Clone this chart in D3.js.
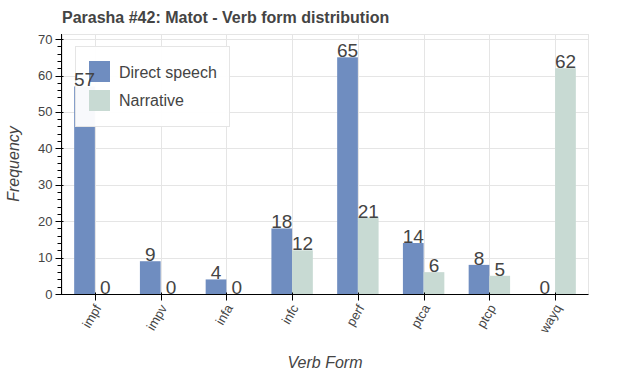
<!DOCTYPE html>
<html>
<head>
<meta charset="utf-8">
<script src="https://d3js.org/d3.v7.min.js"></script>
<style>
    body { margin: 0; background: #fff; }
    svg { font-family: "Liberation Sans", Arial, Helvetica, sans-serif; }
    .grid line { stroke: #e5e5e5; stroke-width: 1; }
    .tick-label { fill: #444; font-size: 13px; }
    .value-label { fill: #444; font-size: 19px; }
</style>
</head>
<body>
<svg id="chart" width="625" height="375"></svg>
<script>
// verb forms (x categories)
var forms = ['impf', 'impv', 'infa', 'infc', 'perf', 'ptca', 'ptcp', 'wayq'];

// counts per verb form
var directSpeech = [57, 9, 4, 18, 65, 14, 8, 0];
var narrative = [0, 0, 0, 12, 21, 6, 5, 62];

var seriesNames = ['Direct speech', 'Narrative'];
var yTicks = [0, 10, 20, 30, 40, 50, 60, 70];

/** Class implementing the grouped bar chart. */
class BarChart {
    /**
     * Creates the chart with its scales
     */
    constructor() {
        this.left = 62;
        this.right = 588;
        this.top = 34;
        this.bottom = 294;
        this.colors = ['#6f8dc0', '#c8dad3'];

        this.x = d3.scaleBand().domain(forms).range([this.left, this.right]);
        this.y = d3.scaleLinear().domain([0, 71.4]).range([this.bottom, this.top]);
    }

    /**
     * Draws gridlines, bars, legend, axes and labels
     */
    draw() {
        var svg = d3.select('#chart');
        var x = this.x, y = this.y;
        var self = this;
        var bw = x.bandwidth() * 0.315;
        var cx = function (d) { return x(d) + x.bandwidth() / 2; };

        // gridlines
        var grid = svg.append('g').attr('class', 'grid');
        grid.selectAll('.gy')
            .data(yTicks)
            .enter()
            .append('line')
            .attr('x1', this.left).attr('x2', this.right)
            .attr('y1', function (d) { return Math.round(y(d)) + 0.5; })
            .attr('y2', function (d) { return Math.round(y(d)) + 0.5; });
        grid.selectAll('.gx')
            .data(forms)
            .enter()
            .append('line')
            .attr('x1', function (d) { return Math.round(cx(d)) + 0.5; })
            .attr('x2', function (d) { return Math.round(cx(d)) + 0.5; })
            .attr('y1', this.top).attr('y2', this.bottom);

        // plot outline
        svg.append('rect')
            .attr('x', this.left + 0.5).attr('y', this.top + 0.5)
            .attr('width', this.right - this.left).attr('height', this.bottom - this.top)
            .attr('fill', 'none').attr('stroke', '#e5e5e5');

        // bars, one group per series
        var series = [directSpeech, narrative];
        series.forEach(function (vals, s) {
            svg.append('g').selectAll('rect')
                .data(vals)
                .enter()
                .append('rect')
                .attr('x', function (d, i) { return cx(forms[i]) + (s === 0 ? -bw : 0); })
                .attr('y', function (d) { return y(d); })
                .attr('width', bw)
                .attr('height', function (d) { return y(0) - y(d); })
                .attr('fill', self.colors[s]);
        });

        // legend
        var legend = svg.append('g');
        legend.append('rect')
            .attr('x', 75.5).attr('y', 46.5)
            .attr('width', 154).attr('height', 80)
            .attr('fill', '#fff').attr('fill-opacity', 0.95)
            .attr('stroke', '#e5e5e5');
        seriesNames.forEach(function (name, s) {
            legend.append('rect')
                .attr('x', 89).attr('y', 61 + s * 29)
                .attr('width', 21).attr('height', 21)
                .attr('fill', self.colors[s]);
            legend.append('text')
                .attr('x', 119).attr('y', 77.5 + s * 28.5)
                .attr('fill', '#444').attr('font-size', '16px')
                .text(name);
        });

        // value labels sit on top of everything
        series.forEach(function (vals, s) {
            svg.append('g').selectAll('text')
                .data(vals)
                .enter()
                .append('text')
                .attr('class', 'value-label')
                .attr('text-anchor', 'middle')
                .attr('x', function (d, i) { return cx(forms[i]) + (s === 0 ? -bw / 2 : bw / 2); })
                .attr('y', function (d) { return y(d); })
                .text(function (d) { return d; });
        });

        // y axis
        var yAxis = svg.append('g').attr('transform', 'translate(' + (this.left - 0.5) + ',0)');
        yAxis.append('line')
            .attr('y1', this.top).attr('y2', this.bottom + 0.5)
            .attr('stroke', '#000');
        var minor = d3.range(0, 71, 2).filter(function (d) { return d % 10 !== 0; });
        yAxis.selectAll('.minor')
            .data(minor)
            .enter()
            .append('line')
            .attr('x1', -4).attr('x2', 0)
            .attr('y1', function (d) { return Math.round(y(d)) + 0.5; })
            .attr('y2', function (d) { return Math.round(y(d)) + 0.5; })
            .attr('stroke', '#000');
        yAxis.selectAll('.major')
            .data(yTicks)
            .enter()
            .append('line')
            .attr('x1', -6).attr('x2', 2)
            .attr('y1', function (d) { return Math.round(y(d)) + 0.5; })
            .attr('y2', function (d) { return Math.round(y(d)) + 0.5; })
            .attr('stroke', '#000');
        yAxis.selectAll('.tick-label')
            .data(yTicks)
            .enter()
            .append('text')
            .attr('class', 'tick-label')
            .attr('text-anchor', 'end')
            .attr('x', -9)
            .attr('y', function (d) { return y(d); })
            .attr('dy', '0.35em')
            .text(function (d) { return d; });

        // x axis
        var xAxis = svg.append('g').attr('transform', 'translate(0,' + (this.bottom + 0.5) + ')');
        xAxis.append('line')
            .attr('x1', this.left - 1).attr('x2', this.right + 0.5)
            .attr('stroke', '#000');
        xAxis.selectAll('.major')
            .data(forms)
            .enter()
            .append('line')
            .attr('x1', function (d) { return Math.round(cx(d)) + 0.5; })
            .attr('x2', function (d) { return Math.round(cx(d)) + 0.5; })
            .attr('y1', -2).attr('y2', 6)
            .attr('stroke', '#000');
        xAxis.selectAll('.tick-label')
            .data(forms)
            .enter()
            .append('text')
            .attr('class', 'tick-label')
            .attr('text-anchor', 'end')
            .attr('transform', function (d) {
                return 'translate(' + (cx(d) + 3) + ',11) rotate(-60)';
            })
            .attr('dy', '0.35em')
            .text(function (d) { return d; });

        // axis titles
        svg.append('text')
            .attr('x', (this.left + this.right) / 2).attr('y', 368)
            .attr('text-anchor', 'middle')
            .attr('font-style', 'italic').attr('font-size', '16px').attr('fill', '#444')
            .text('Verb Form');
        svg.append('text')
            .attr('transform', 'translate(19,' + (this.top + this.bottom) / 2 + ') rotate(-90)')
            .attr('text-anchor', 'middle')
            .attr('font-style', 'italic').attr('font-size', '16px').attr('fill', '#444')
            .text('Frequency');

        // title
        svg.append('text')
            .attr('x', 62).attr('y', 23)
            .attr('font-weight', 'bold').attr('font-size', '16px').attr('fill', '#444')
            .text('Parasha #42: Matot - Verb form distribution');
    }
}

var chart = new BarChart();
chart.draw();
</script>
</body>
</html>
